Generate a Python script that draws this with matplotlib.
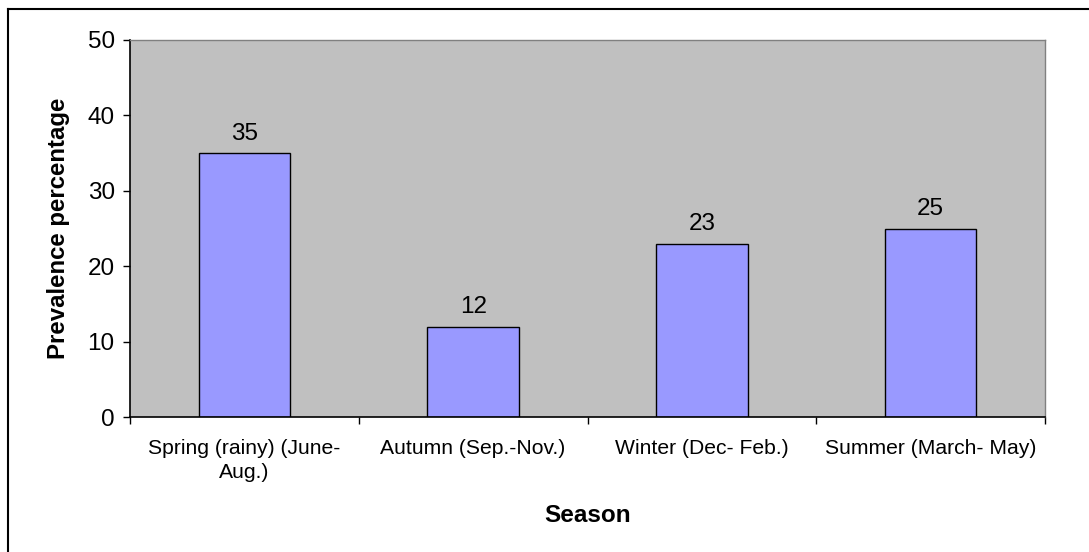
import numpy as np
import matplotlib
matplotlib.use("Agg")
import matplotlib.pyplot as plt
from matplotlib.lines import Line2D

plt.rcParams['font.family'] = ['Liberation Sans', 'DejaVu Sans']

seasons = ["Spring (rainy) (June-\nAug.)", "Autumn (Sep.-Nov.)",
           "Winter (Dec- Feb.)", "Summer (March- May)"]
prevalence = [35, 12, 23, 25]
y_ticks = [0, 10, 20, 30, 40, 50]

fig = plt.figure(figsize=(10.89, 5.52), dpi=100)
ax = fig.add_axes([130 / 1089, 1 - 417 / 552, 915 / 1089, 377 / 552])
ax.set_facecolor("#C0C0C0")

x = np.arange(len(seasons))
bars = ax.bar(x, prevalence, width=0.4, color="#9999FF",
              edgecolor="black", linewidth=1.0, zorder=2)
for b, v in zip(bars, prevalence):
    ax.annotate(str(v), (b.get_x() + b.get_width() / 2, v),
                xytext=(0, 6), textcoords="offset points",
                ha="center", va="bottom", fontsize=17.5)

ax.set_xlim(-0.5, len(seasons) - 0.5)
ax.set_ylim(0, 50)
ax.set_yticks(y_ticks)
ax.tick_params(axis="y", labelsize=17.5, length=5, width=1, direction="out", pad=6)

# category labels sit between boundary ticks
ax.set_xticks(np.arange(len(seasons) + 1) - 0.5)
ax.set_xticklabels([])
ax.set_xticks(x, minor=True)
ax.set_xticklabels(seasons, minor=True, fontsize=15.2, linespacing=1.3)
ax.tick_params(axis="x", which="major", length=5, width=1, direction="out")
ax.tick_params(axis="x", which="minor", length=0, pad=16)

for side in ("left", "bottom"):
    ax.spines[side].set_color("black")
    ax.spines[side].set_linewidth(1.2)
for side in ("top", "right"):
    ax.spines[side].set_color("#808080")
    ax.spines[side].set_linewidth(1.0)

ax.set_ylabel("Prevalence percentage", fontsize=17.3, fontweight="bold", labelpad=13)
ax.set_xlabel("Season", fontsize=17.5, fontweight="bold", labelpad=16)

# chart frame edges along the top and left
fig.add_artist(Line2D([8 / 1089, 1], [1 - 9 / 552, 1 - 9 / 552],
                      transform=fig.transFigure, color="black", lw=1.5))
fig.add_artist(Line2D([8 / 1089, 8 / 1089], [0, 1 - 9 / 552],
                      transform=fig.transFigure, color="black", lw=1.5))

fig.savefig("out.png", dpi=100)
